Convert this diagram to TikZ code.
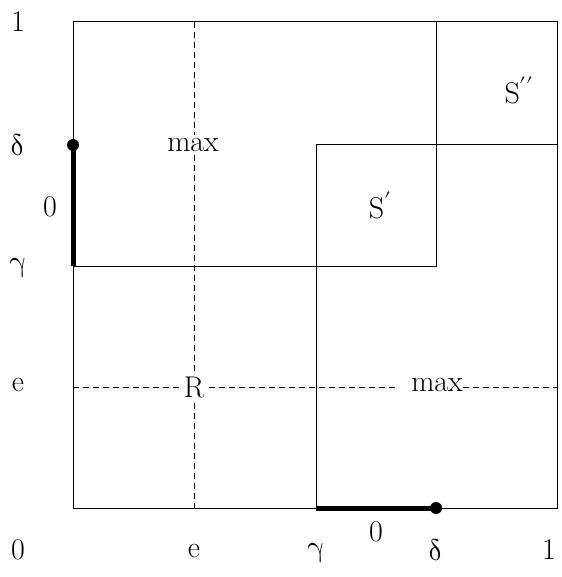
\documentclass[tikz,border=0pt]{standalone}
\usepackage{unicode-math}
\begin{document}
\begin{tikzpicture}[x=1pt,y=-1pt,
  thin line/.style={line width=1pt},
  dash line/.style={line width=1pt,dash pattern=on 6pt off 4pt},
  thick seg/.style={line width=5pt},
  dotnode/.style={circle,fill=black,inner sep=0pt,minimum size=12pt},
  lbl/.style={inner sep=1pt,font=\fontsize{30}{34}\selectfont},
  onlbl/.style={lbl,fill=white,inner sep=3pt}]
\useasboundingbox (0,0) rectangle (561,577);
% corner coordinates
\coordinate (O) at (73,508);
\coordinate (A) at (557,508);
\coordinate (B) at (557,22);
\coordinate (C) at (73,22);
% dashed lines with labels
\node[onlbl,inner sep=5pt] (R) at (194,387) {R};
\node[onlbl] (max1) at (193,145) {max};
\node[onlbl,inner sep=0pt] (max2) at (437,385) {max};
\coordinate (eT) at (194,22);
\coordinate (eB) at (194,508);
\coordinate (eL) at (73,387);
\coordinate (eR) at (557,387);
\draw[dash line] (eT) -- (max1.north -| eT);
\draw[dash line] (max1.south -| eT) -- (R.north -| eT);
\draw[dash line] (R.south -| eT) -- (eB);
\draw[dash line] (eL) -- (R.west |- eL);
\draw[dash line] (R.east |- eL) -- ([xshift=-12pt]max2.west |- eL);
\draw[dash line] (max2.east |- eL) -- (eR);
% outer square
\draw[thin line] (O) -- (A) -- (B) -- (C) -- cycle;
% inner lines
\coordinate (gL) at (73,266);
\coordinate (gM) at (436,266);
\coordinate (dT) at (436,22);
\coordinate (gB) at (316,508);
\coordinate (gT) at (316,145);
\coordinate (dR) at (557,145);
\draw[thin line] (gL) -- (gM) -- (dT);
\draw[thin line] (gB) -- (gT) -- (dR);
% thick segments
\coordinate (lg) at (73,266);
\node[dotnode] (ld) at (73,145) {};
\draw[thick seg] (lg) -- (ld.center);
\coordinate (bg) at (316,508);
\node[dotnode] (bd) at (436,508) {};
\draw[thick seg] (bg) -- (bd.center);
% region labels
\node[lbl] (S2) at (519,90) {S$^{\prime\prime}$};
\node[lbl] (S1) at (380,205) {S$^{\prime}$};
\node[lbl] (zl) at (50,207) {0};
\node[lbl] (zb) at (376,532) {0};
% axis labels
\node[lbl] (y1) at (18,22) {1};
\node[lbl] (yd) at (18,145) {$\symup{\delta}$};
\node[lbl] (yg) at (18,268) {$\symup{\gamma}$};
\node[lbl] (ye) at (18,385) {e};
\node[lbl] (x0) at (18,550) {0};
\node[lbl] (xe) at (194,551) {e};
\node[lbl] (xg) at (316,553) {$\symup{\gamma}$};
\node[lbl] (xd) at (436,550) {$\symup{\delta}$};
\node[lbl] (x1) at (549,550) {1};
\end{tikzpicture}
\end{document}
